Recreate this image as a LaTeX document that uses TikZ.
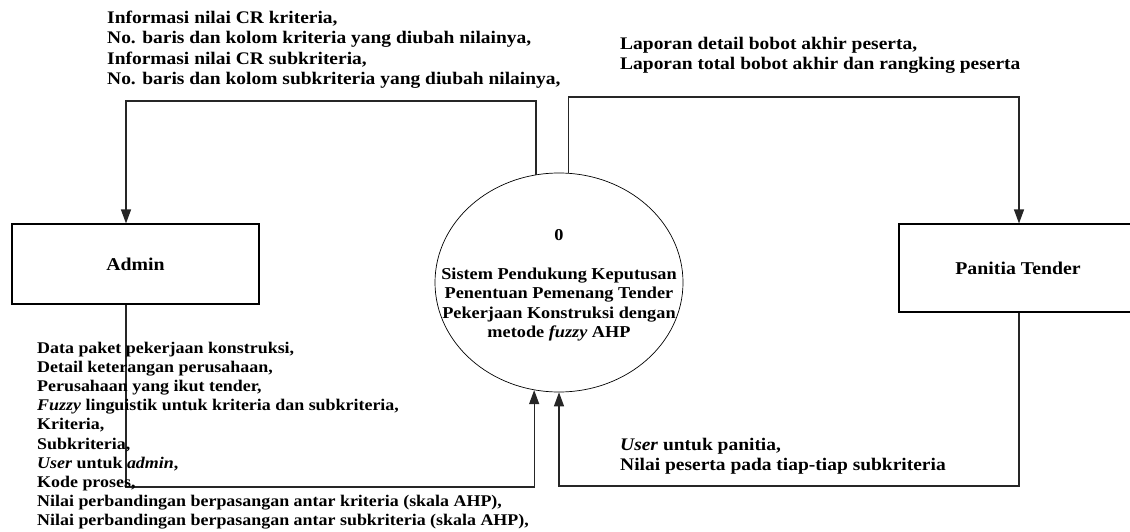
\documentclass[tikz,border=0pt]{standalone}
\usepackage{fontspec}
\setmainfont{Liberation Serif}[FakeStretch=1.1]
\usetikzlibrary{arrows.meta,shapes.geometric}
\tikzset{
  lbl/.style={anchor=north west, inner sep=0pt, align=left, font=\fontsize{17.7}{20.3}\selectfont\bfseries},
  entity/.style={draw=black, line width=1.1pt, inner sep=0pt, font=\fontsize{18}{20.3}\selectfont\bfseries},
  proc/.style={draw=black, line width=0.7pt, ellipse, inner sep=0pt, minimum width=248pt, minimum height=219pt},
  proctext/.style={inner sep=0pt, align=center, font=\fontsize{16.6}{19.4}\selectfont\bfseries},
  flow/.style={draw=black!85, line width=1.2pt, -{Triangle[length=14pt,width=10pt]}}
}
\begin{document}
\begin{tikzpicture}[x=1pt,y=-1pt]
\useasboundingbox (0,0) rectangle (1130,532);
\begin{scope}
\clip (0,0) rectangle (1130,532);
\node[entity, minimum width=247pt, minimum height=80pt] (adm) at (135.5,264) {Admin};
\node[entity, minimum width=238pt, minimum height=88pt] (pt) at (1018,268) {Panitia Tender};
\node[proc] (p0) at (559,282.5) {};
\node[proctext] (p0t) at (559,285.5) {0\\[19.4pt]Sistem Pendukung Keputusan\\Penentuan Pemenang Tender\\Pekerjaan Konstruksi dengan\\metode \textit{fuzzy} AHP};

\coordinate (tl) at (126,101);
\coordinate (tr) at (1019,97);
\coordinate (bl) at (126,487);
\coordinate (br) at (1019,486);

\draw[flow] (p0.102.6) |- (tl) -- (tl |- adm.north);
\draw[flow] (p0.85.3) |- (tr) -- (tr |- pt.north);
\draw[flow] (adm.south -| bl) -- (bl) -| (p0.257.4);
\draw[flow] (pt.south -| br) -- (br) -| (p0.south);

\node[lbl] (l1) at (107,11) {Informasi nilai CR kriteria,\\No. baris dan kolom kriteria yang diubah nilainya,\\Informasi nilai CR subkriteria,\\No. baris dan kolom subkriteria yang diubah nilainya,};
\node[lbl] (l2) at (620,37) {Laporan detail bobot akhir peserta,\\Laporan total bobot akhir dan rangking peserta};
\node[lbl, font=\fontsize{16.3}{19.1}\selectfont\bfseries] (l3) at (37,342) {Data paket pekerjaan konstruksi,\\Detail keterangan perusahaan,\\Perusahaan yang ikut tender,\\\textit{Fuzzy} linguistik untuk kriteria dan subkriteria,\\Kriteria,\\Subkriteria,\\\textit{User} untuk \textit{admin},\\Kode proses,\\Nilai perbandingan berpasangan antar kriteria (skala AHP),\\Nilai perbandingan berpasangan antar subkriteria (skala AHP),};
\node[lbl] (l4) at (620,438) {\textit{User} untuk panitia,\\Nilai peserta pada tiap-tiap subkriteria};
\end{scope}
\end{tikzpicture}
\end{document}
